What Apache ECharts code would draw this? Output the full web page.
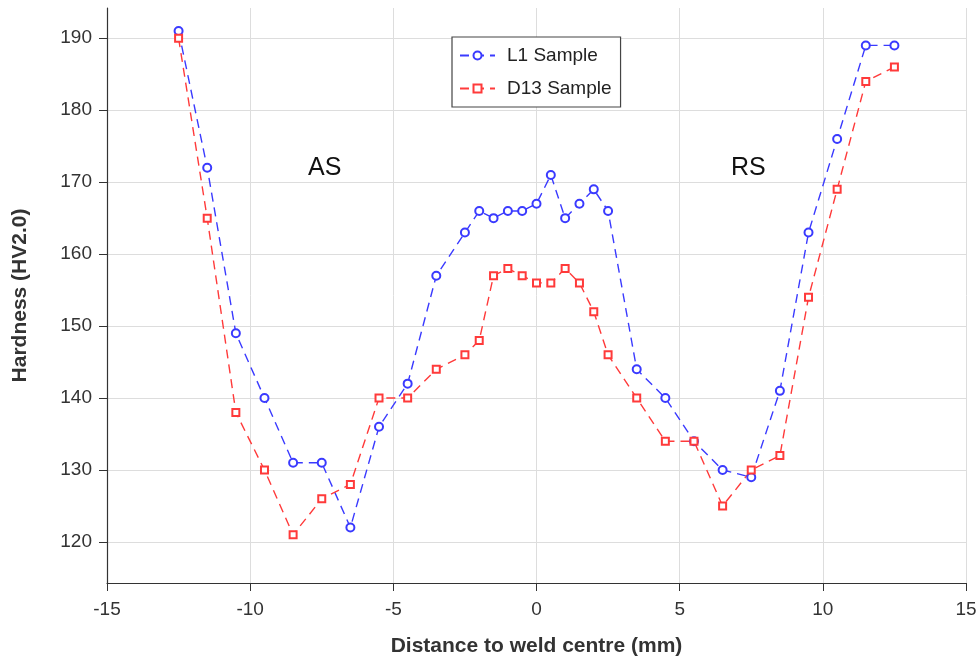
<!DOCTYPE html>
<html>
<head>
<meta charset="utf-8">
<script src="https://cdn.jsdelivr.net/npm/echarts@6/dist/echarts.min.js"></script>
<style>
  html, body { margin: 0; padding: 0; background: #fff; }
  #chart { width: 980px; height: 662px; }
</style>
</head>
<body>
<div id="chart"></div>
<script>
// Distance from the weld centre (mm), shared by both samples
const distance = [-12.5, -11.5, -10.5, -9.5, -8.5, -7.5, -6.5, -5.5, -4.5, -3.5, -2.5,
  -2, -1.5, -1, -0.5, 0, 0.5, 1, 1.5, 2, 2.5,
  3.5, 4.5, 5.5, 6.5, 7.5, 8.5, 9.5, 10.5, 11.5, 12.5];

// Hardness (HV2.0)
const l1Hardness = [191, 172, 149, 140, 131, 131, 122, 136, 142, 157, 163,
  166, 165, 166, 166, 167, 171, 165, 167, 169, 166,
  144, 140, 134, 130, 129, 141, 163, 176, 189, 189];
const d13Hardness = [190, 165, 138, 130, 121, 126, 128, 140, 140, 144, 146,
  148, 157, 158, 157, 156, 156, 158, 156, 152, 146,
  140, 134, 134, 125, 130, 132, 154, 169, 184, 186];

const yTicks = [120, 130, 140, 150, 160, 170, 180, 190];
const seriesNames = ['L1 Sample', 'D13 Sample'];

const pairs = (ys) => distance.map((x, i) => [x, ys[i]]);

const chart = echarts.init(document.getElementById('chart'));
const family = 'Liberation Sans, Arial, sans-serif';
const axisFont = { fontFamily: family, fontSize: 19, color: '#333' };
const nameFont = { fontFamily: family, fontSize: 21, fontWeight: 'bold', color: '#333' };

chart.setOption({
  animation: false,
  grid: { left: 107, right: 14, top: 8, bottom: 78 },
  legend: {
    left: 452, top: 37, orient: 'vertical',
    itemGap: 14, itemWidth: 35, itemHeight: 10,
    padding: [9, 9, 9, 7],
    borderColor: '#444', borderWidth: 1.2, backgroundColor: '#fff',
    textStyle: { fontFamily: family, fontSize: 19, color: '#222', padding: [0, 0, 0, 7] },
    data: seriesNames
  },
  xAxis: {
    type: 'value', min: -15, max: 15, interval: 5,
    name: 'Distance to weld centre (mm)', nameLocation: 'middle', nameGap: 53,
    nameTextStyle: nameFont,
    axisLine: { show: true, onZero: false, lineStyle: { color: '#333', width: 1.2 } },
    axisTick: { show: true, length: 8, lineStyle: { color: '#333' } },
    axisLabel: Object.assign({ margin: 17 }, axisFont),
    splitLine: { show: true, lineStyle: { color: '#ddd', width: 1 } }
  },
  yAxis: {
    type: 'value', min: 114.3, max: 194.2,
    name: 'Hardness (HV2.0)', nameLocation: 'middle', nameGap: 76, nameRotate: 90,
    nameTextStyle: nameFont,
    axisLine: { show: true, onZero: false, lineStyle: { color: '#333', width: 1.2 } },
    axisTick: { show: true, length: 8, lineStyle: { color: '#333' }, customValues: yTicks },
    axisLabel: Object.assign({ margin: 15, customValues: yTicks }, axisFont),
    splitLine: { show: true, lineStyle: { color: '#ddd', width: 1 } }
  },
  series: [
    {
      name: seriesNames[0], type: 'line', data: pairs(l1Hardness),
      symbol: 'emptyCircle', symbolSize: 8,
      itemStyle: { color: '#3a3aff', borderWidth: 1.3 },
      lineStyle: { color: '#3a3aff', width: 1.4, type: [9, 6] }
    },
    {
      name: seriesNames[1], type: 'line', data: pairs(d13Hardness),
      symbol: 'emptyRect', symbolSize: 7,
      itemStyle: { color: '#ff3a3a', borderWidth: 1.3 },
      lineStyle: { color: '#ff3a3a', width: 1.4, type: [9, 6] }
    }
  ],
  graphic: [
    { type: 'text', left: 308, top: 156, style: { text: 'AS', fontFamily: family, fontSize: 25, fill: '#111' } },
    { type: 'text', left: 731, top: 156, style: { text: 'RS', fontFamily: family, fontSize: 25, fill: '#111' } }
  ]
});
</script>
</body>
</html>
